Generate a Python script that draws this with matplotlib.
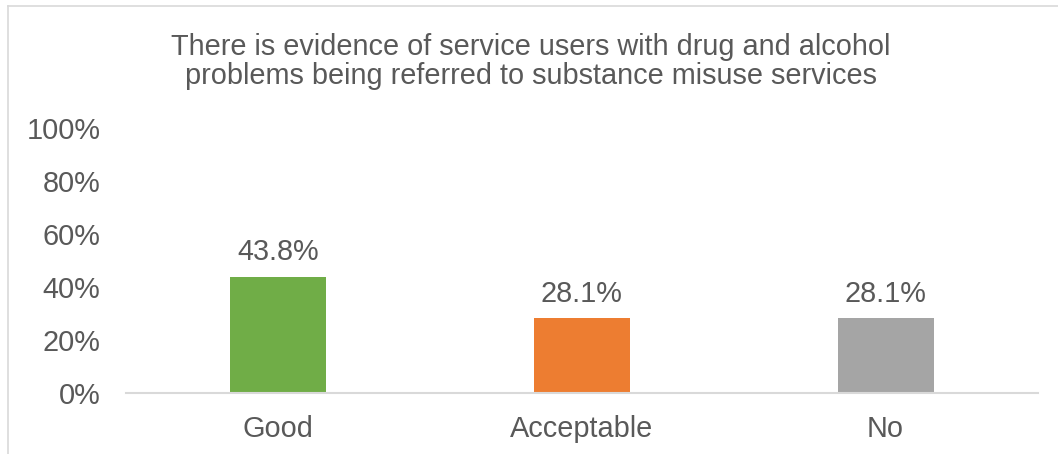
import matplotlib
matplotlib.use("Agg")
import matplotlib.pyplot as plt
from matplotlib.lines import Line2D

categories = ["Good", "Acceptable", "No"]
values = [43.8, 28.1, 28.1]
colors = ["#70AD47", "#ED7D31", "#A5A5A5"]
title_lines = ["There is evidence of service users with drug and alcohol",
               "problems being referred to substance misuse services"]

plt.rcParams["font.family"] = ["Liberation Sans", "DejaVu Sans"]
text_color = "#595959"
fs = 20.8

W, H = 1058, 454
fig = plt.figure(figsize=(W / 100, H / 100), dpi=100)
ax = fig.add_axes([126 / W, 1 - 392.5 / H, (1037.5 - 126) / W, (392.5 - 128) / H])

x = range(len(categories))
ax.bar(x, values, width=0.316, color=colors)
for xi, v in zip(x, values):
    ax.annotate(f"{v:.1f}%", (xi, v), xytext=(0, 12), textcoords="offset points",
                ha="center", va="baseline", fontsize=fs, color=text_color)

ax.set_xlim(-0.5, len(categories) - 0.5)
ax.set_ylim(0, 100)
ax.set_yticks(range(0, 101, 20))
ax.set_yticklabels([f"{t}%" for t in range(0, 101, 20)])
ax.set_xticks(list(x))
ax.set_xticklabels(categories)
ax.tick_params(axis="y", length=0, pad=18.5, labelsize=fs, labelcolor=text_color)
ax.tick_params(axis="x", length=0, pad=16.2, labelsize=fs, labelcolor=text_color)

for s in ["top", "right", "left"]:
    ax.spines[s].set_visible(False)
ax.spines["bottom"].set_color("#D9D9D9")
ax.spines["bottom"].set_linewidth(1.5)

for line, yb in zip(title_lines, [55, 84.5]):
    fig.text(531 / W, 1 - yb / H, line, ha="center", va="baseline",
             fontsize=fs, color=text_color)

# chart border (cropped on right and bottom)
fig.add_artist(Line2D([8 / W, 1], [1 - 6 / H, 1 - 6 / H], color="#D9D9D9", lw=1.2))
fig.add_artist(Line2D([8 / W, 8 / W], [0, 1 - 6 / H], color="#D9D9D9", lw=1.2))

fig.savefig("out.png", dpi=100)
